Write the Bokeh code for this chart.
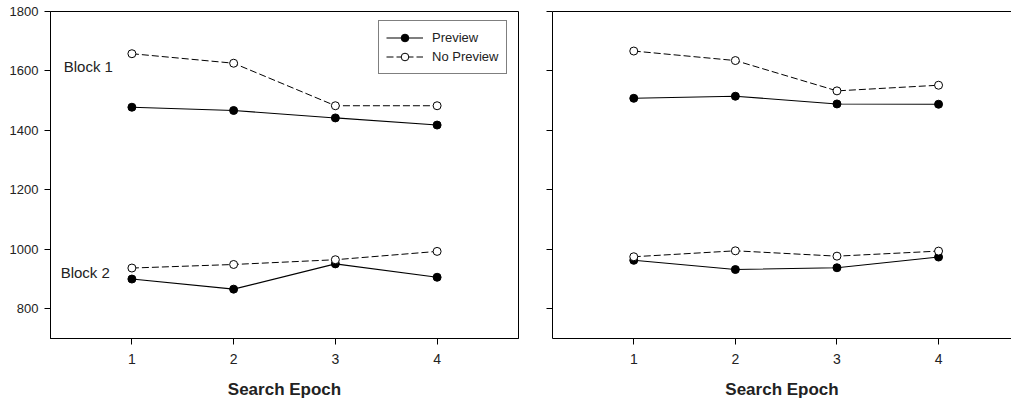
from bokeh.plotting import figure
from bokeh.layouts import row
from bokeh.models import FixedTicker, LinearAxis, Legend, LegendItem, Label, Range1d
from bokeh.embed import file_html
from bokeh.resources import INLINE

# ---- data ----
epochs = [1, 2, 3, 4]
x_ticks = [1, 2, 3, 4]
y_ticks = [800, 1000, 1200, 1400, 1600, 1800]

left_b1_preview = [1478, 1467, 1442, 1418]
left_b1_nopreview = [1658, 1626, 1483, 1483]
left_b2_preview = [900, 866, 951, 906]
left_b2_nopreview = [937, 949, 965, 993]

right_b1_preview = [1508, 1515, 1489, 1488]
right_b1_nopreview = [1667, 1635, 1533, 1552]
right_b2_preview = [963, 932, 938, 974]
right_b2_nopreview = [975, 995, 977, 994]

legend_labels = ["Preview", "No Preview"]
block_labels = ["Block 1", "Block 2"]
x_label = "Search Epoch"

FONT = "Liberation Sans"
TXT = "#222222"


def style_axes(p, show_y_labels):
    p.xgrid.visible = False
    p.ygrid.visible = False
    p.background_fill_color = "white"
    p.border_fill_color = "white"
    xa = p.xaxis[0]
    xa.ticker = FixedTicker(ticks=x_ticks)
    xa.minor_tick_line_color = None
    xa.major_tick_in = 0
    xa.major_tick_out = 6
    xa.major_label_standoff = 9
    xa.major_label_text_font = FONT
    xa.major_label_text_font_size = "14px"
    xa.major_label_text_color = TXT
    xa.axis_label = x_label
    xa.axis_label_text_font = FONT
    xa.axis_label_text_font_size = "17px"
    xa.axis_label_text_font_style = "bold"
    xa.axis_label_text_color = TXT
    xa.axis_label_standoff = 13
    xa.axis_line_color = "black"
    ya = p.yaxis[0]
    ya.ticker = FixedTicker(ticks=y_ticks)
    ya.minor_tick_line_color = None
    ya.major_tick_in = 0
    ya.major_tick_out = 6
    ya.major_label_standoff = 6
    ya.major_label_text_font = FONT
    ya.major_label_text_font_size = "13px"
    ya.major_label_text_color = TXT
    ya.axis_line_color = "black"
    if not show_y_labels:
        ya.major_label_overrides = {t: "" for t in y_ticks}


def draw_series(p, pre1, nop1, pre2, nop2):
    out = {}
    for key, pre, nop in (("b1", pre1, nop1), ("b2", pre2, nop2)):
        lp = p.line(epochs, pre, line_color="black", line_width=1.1)
        sp = p.scatter(epochs, pre, size=8, marker="circle",
                       fill_color="black", line_color="black")
        ln = p.line(epochs, nop, line_color="black", line_width=1.0,
                    line_dash="7 3")
        sn = p.scatter(epochs, nop, size=8, marker="circle",
                       fill_color="white", line_color="black", line_width=1)
        out[key] = (lp, sp, ln, sn)
    return out


# ---- left panel ----
p1 = figure(width=528, height=404, x_range=Range1d(0.2, 4.8),
            y_range=Range1d(700, 1800), output_backend="svg",
            toolbar_location=None, min_border_left=50, min_border_right=10,
            min_border_top=11, min_border_bottom=66)
style_axes(p1, True)
p1.outline_line_color = "black"
p1.outline_line_width = 1
r1 = draw_series(p1, left_b1_preview, left_b1_nopreview,
                 left_b2_preview, left_b2_nopreview)

lp, sp, ln, sn = r1["b1"]
legend = Legend(items=[LegendItem(label=legend_labels[0], renderers=[lp, sp]),
                       LegendItem(label=legend_labels[1], renderers=[ln, sn])],
                location=(328, 264), padding=7, spacing=0, margin=0,
                glyph_width=37, glyph_height=19, label_height=14,
                label_width=67, label_standoff=9, label_text_font=FONT,
                label_text_font_size="13px", label_text_color=TXT,
                border_line_color="black", border_line_width=1,
                background_fill_color="white", background_fill_alpha=1)
p1.add_layout(legend, "center")

p1.add_layout(Label(x=0.33, y=1614, text=block_labels[0], text_font=FONT,
                    text_font_size="15px", text_color=TXT,
                    text_baseline="middle"))
p1.add_layout(Label(x=0.30, y=921, text=block_labels[1], text_font=FONT,
                    text_font_size="15px", text_color=TXT,
                    text_baseline="middle"))

# ---- right panel ----
p2 = figure(width=483, height=404, x_range=Range1d(0.2, 4.718),
            y_range=Range1d(700, 1800), output_backend="svg",
            toolbar_location=None, min_border_left=24, min_border_right=0,
            min_border_top=11, min_border_bottom=66)
style_axes(p2, False)
p2.outline_line_color = None
top_axis = LinearAxis(ticker=FixedTicker(ticks=[]), major_tick_out=0,
                      major_tick_in=0, minor_tick_out=0,
                      major_label_text_font_size="0px",
                      axis_line_color="black")
p2.add_layout(top_axis, "above")
draw_series(p2, right_b1_preview, right_b1_nopreview,
            right_b2_preview, right_b2_nopreview)

layout = row(p1, p2)
open("out.html", "w").write(file_html(layout, INLINE))
